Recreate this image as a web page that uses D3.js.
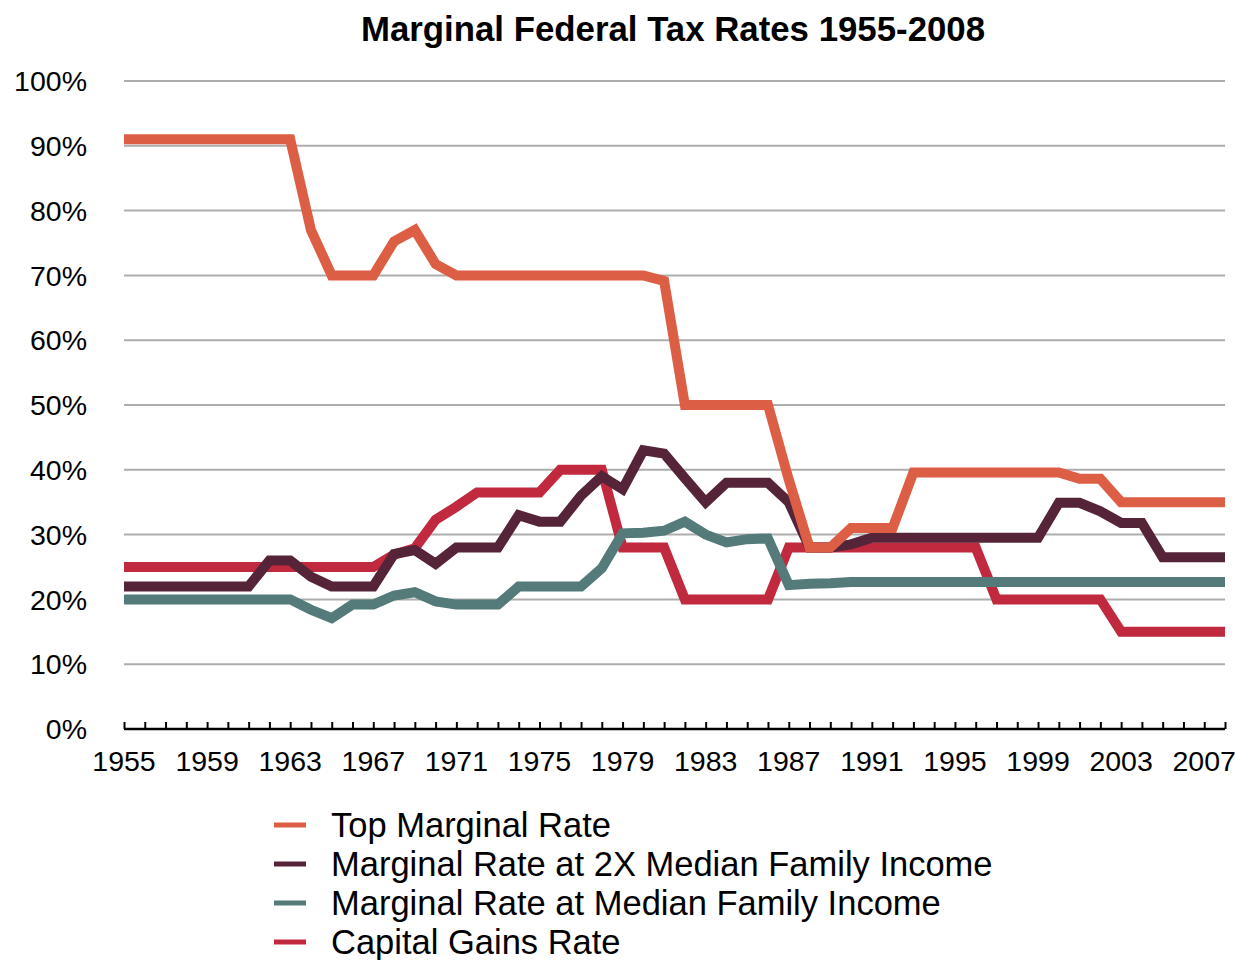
<!DOCTYPE html>
<html>
<head>
<meta charset="utf-8">
<script src="https://cdn.jsdelivr.net/npm/d3@7"></script>
<style>
  body { margin: 0; background: #fff; }
  text { font-family: "Liberation Sans", Arial, Helvetica, sans-serif; fill: #000; }
</style>
</head>
<body>
<svg id="chart" width="1235" height="960"></svg>
<script>
// categories
const years = [1955,1956,1957,1958,1959,1960,1961,1962,1963,1964,1965,1966,1967,1968,1969,1970,
  1971,1972,1973,1974,1975,1976,1977,1978,1979,1980,1981,1982,1983,1984,1985,1986,1987,1988,
  1989,1990,1991,1992,1993,1994,1995,1996,1997,1998,1999,2000,2001,2002,2003,2004,2005,2006,2007,2008];

// series values (percent)
const topRate = [91,91,91,91,91,91,91,91,91,77,70,70,70,75.25,77,71.75,
  70,70,70,70,70,70,70,70,70,70,69.13,50,50,50,50,50,38.5,28,
  28,31,31,31,39.6,39.6,39.6,39.6,39.6,39.6,39.6,39.6,38.6,38.6,35,35,35,35,35,35];
const twoXMedian = [22,22,22,22,22,22,22,26,26,23.5,22,22,22,27,27.6,25.5,
  28,28,28,33,32,32,36,39,37,43,42.5,38.7,35,38,38,38,35,28,
  28,28.5,29.5,29.5,29.5,29.5,29.5,29.5,29.5,29.5,29.5,34.9,34.9,33.6,31.8,31.8,26.5,26.5,26.5,26.5];
const medianRate = [20,20,20,20,20,20,20,20,20,18.4,17.1,19.2,19.2,20.6,21.1,19.7,
  19.2,19.2,19.2,22,22,22,22,24.8,30.2,30.3,30.6,32,30,28.8,29.3,29.4,22.2,22.4,
  22.5,22.7,22.7,22.7,22.7,22.7,22.7,22.7,22.7,22.7,22.7,22.7,22.7,22.7,22.7,22.7,22.7,22.7,22.7,22.7];
const capGains = [25,25,25,25,25,25,25,25,25,25,25,25,25,26.9,27.9,32.3,
  34.3,36.5,36.5,36.5,36.5,40,40,40,28,28,28,20,20,20,20,20,28,28,
  28,28,28,28,28,28,28,28,20,20,20,20,20,20,15,15,15,15,15,15];

// tick labels
const xLabels = [1955,1959,1963,1967,1971,1975,1979,1983,1987,1991,1995,1999,2003,2007];
const yTicks = [0,10,20,30,40,50,60,70,80,90,100];

const seriesNames = ["Top Marginal Rate", "Marginal Rate at 2X Median Family Income",
  "Marginal Rate at Median Family Income", "Capital Gains Rate"];
const seriesColors = ["#dc5e45", "#552438", "#547a7a", "#c1293f"];
const seriesValues = [topRate, twoXMedian, medianRate, capGains];

const svg = d3.select("#chart");

const x = d3.scaleLinear().domain([1955, 2008]).range([124, 1225]);
const y = d3.scaleLinear().domain([0, 100]).range([729, 81]);

// title
svg.append("text")
  .attr("x", 673).attr("y", 41)
  .attr("text-anchor", "middle")
  .style("font-size", "34.8px").style("font-weight", "bold")
  .text("Marginal Federal Tax Rates 1955-2008");

// gridlines
svg.append("g")
  .selectAll("line")
  .data(yTicks.filter(d => d > 0))
  .join("line")
  .attr("x1", x(1955)).attr("x2", x(2008))
  .attr("y1", d => y(d)).attr("y2", d => y(d))
  .attr("stroke", "#adadad").attr("stroke-width", 2);

// y labels
svg.append("g")
  .selectAll("text")
  .data(yTicks)
  .join("text")
  .attr("x", 87).attr("y", d => y(d))
  .attr("dy", "0.36em")
  .attr("text-anchor", "end")
  .style("font-size", "28.5px")
  .text(d => d + "%");

// x axis: baseline with small upward ticks every year
const xAxis = d3.axisTop(x)
  .tickValues(years)
  .tickSize(7)
  .tickFormat("");
const gx = svg.append("g")
  .attr("transform", `translate(0,${y(0)})`)
  .call(xAxis);
gx.select(".domain").attr("stroke", "#000").attr("stroke-width", 2.5)
  .attr("d", `M${x(1955)},0H${x(2008)}`);
gx.selectAll(".tick line").attr("stroke", "#000").attr("stroke-width", 2);

svg.append("g")
  .selectAll("text")
  .data(xLabels)
  .join("text")
  .attr("x", d => x(d)).attr("y", 771)
  .attr("text-anchor", "middle")
  .style("font-size", "28.5px")
  .text(d => d);

// lines, drawn bottom to top
const line = d3.line()
  .x((d, i) => x(years[i]))
  .y(d => y(d));

const order = [3, 2, 1, 0];
svg.append("g")
  .selectAll("path")
  .data(order)
  .join("path")
  .attr("d", k => line(seriesValues[k]))
  .attr("fill", "none")
  .attr("stroke", k => seriesColors[k])
  .attr("stroke-width", 10)
  .attr("stroke-linejoin", "miter")
  .attr("stroke-linecap", "butt");

// legend
const legend = svg.append("g");
const rowY = d3.scaleLinear().domain([0, 3]).range([825, 942]);
seriesNames.forEach((name, i) => {
  legend.append("line")
    .attr("x1", 274).attr("x2", 306)
    .attr("y1", rowY(i)).attr("y2", rowY(i))
    .attr("stroke", seriesColors[i]).attr("stroke-width", 5);
  legend.append("text")
    .attr("x", 331).attr("y", rowY(i))
    .attr("dy", "0.36em")
    .style("font-size", "34.5px")
    .text(name);
});
</script>
</body>
</html>
